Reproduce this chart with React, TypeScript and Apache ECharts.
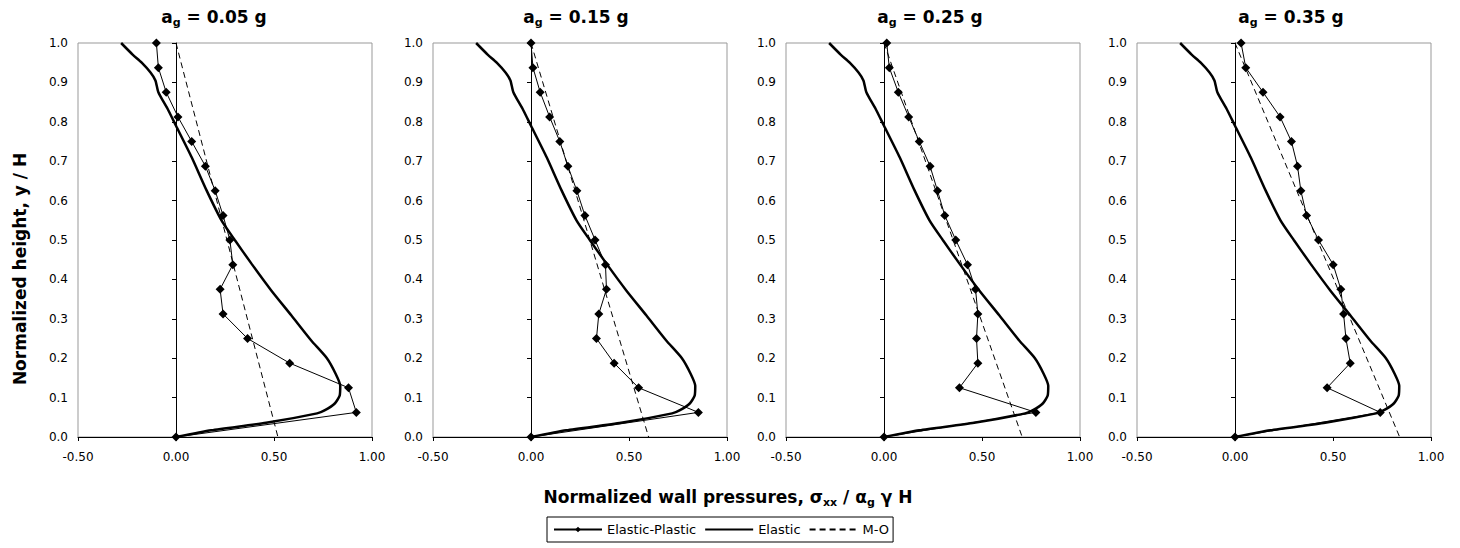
import React, { useEffect, useRef } from 'react';
import * as echarts from 'echarts';

// ---- Data ----
const agLabels = ['0.05', '0.15', '0.25', '0.35'];

// Normalized heights of the Elastic-Plastic points (y / H)
const epHeights = [1.0, 0.9375, 0.875, 0.8125, 0.75, 0.6875, 0.625, 0.5625, 0.5, 0.4375, 0.375, 0.3125, 0.25, 0.1875, 0.125, 0.0625, 0.0];

// Elastic-Plastic normalized pressures per panel
const epAg005 = [-0.10, -0.09, -0.05, 0.01, 0.08, 0.15, 0.20, 0.24, 0.275, 0.29, 0.225, 0.24, 0.365, 0.58, 0.88, 0.92, 0.0];
const epAg015 = [0.0, 0.01, 0.047, 0.095, 0.147, 0.188, 0.234, 0.275, 0.327, 0.38, 0.385, 0.346, 0.334, 0.424, 0.549, 0.854, 0.0];
const epAg025 = [0.014, 0.027, 0.073, 0.126, 0.18, 0.235, 0.273, 0.31, 0.366, 0.426, 0.467, 0.479, 0.472, 0.479, 0.385, 0.775, 0.0];
const epAg035 = [0.031, 0.055, 0.143, 0.23, 0.288, 0.319, 0.336, 0.365, 0.426, 0.501, 0.54, 0.554, 0.566, 0.588, 0.47, 0.741, 0.0];

// Elastic solution (same in every panel)
const elasticX = [-0.28, -0.22, -0.175, -0.13, -0.105, -0.09, -0.04, 0.0, 0.08, 0.156, 0.232, 0.30, 0.385, 0.486, 0.588, 0.69, 0.77, 0.815, 0.838, 0.835, 0.81, 0.76, 0.72, 0.46, 0.18, 0.0];
const elasticY = [1.0, 0.97, 0.95, 0.925, 0.905, 0.875, 0.83, 0.79, 0.71, 0.626, 0.55, 0.50, 0.44, 0.372, 0.309, 0.245, 0.20, 0.16, 0.13, 0.105, 0.085, 0.068, 0.06, 0.036, 0.017, 0.0];

// Mononobe-Okabe linear distribution
const moHeights = [1.0, 0.0];
const moAg005 = [0.0, 0.52];
const moAg015 = [0.0, 0.60];
const moAg025 = [0.0, 0.705];
const moAg035 = [0.0, 0.84];

const xTicks = { min: -0.5, max: 1.0, interval: 0.5 };
const yTicks = { min: 0, max: 1.0, interval: 0.1 };

const epSets = [epAg005, epAg015, epAg025, epAg035];
const moSets = [moAg005, moAg015, moAg025, moAg035];

// ---- Layout ----
const gridLefts = [78, 433, 786, 1137];
const gridTop = 43;
const gridW = 294;
const gridH = 394;
const titleCenters = [214, 576, 930, 1291];

const FONT = '"DejaVu Sans", sans-serif';

export default function App() {
  const ref = useRef<HTMLDivElement>(null);

  useEffect(() => {
    if (!ref.current) return;
    const chart = echarts.init(ref.current, undefined, { renderer: 'svg' });

    const grids = gridLefts.map((l) => ({
      left: l,
      top: gridTop,
      width: gridW,
      height: gridH,
      show: true,
      borderColor: '#999',
      borderWidth: 1,
      backgroundColor: 'transparent',
    }));

    const xAxes = gridLefts.map((_, i) => ({
      type: 'value',
      gridIndex: i,
      min: xTicks.min,
      max: xTicks.max,
      interval: xTicks.interval,
      axisLine: { show: true, onZero: false, lineStyle: { color: '#000', width: 1 } },
      axisTick: { show: true, length: 4, lineStyle: { color: '#000' } },
      axisLabel: {
        formatter: (v: number) => v.toFixed(2),
        fontFamily: FONT,
        fontSize: 12,
        color: '#000',
        margin: 14,
      },
      splitLine: { show: false },
    }));

    const yAxes: any[] = [];
    gridLefts.forEach((_, i) => {
      yAxes.push({
        type: 'value',
        gridIndex: i,
        min: yTicks.min,
        max: yTicks.max,
        interval: yTicks.interval,
        axisLine: { show: false, onZero: false },
        axisTick: { show: false },
        axisLabel: {
          formatter: (v: number) => v.toFixed(1),
          fontFamily: FONT,
          fontSize: 12,
          color: '#000',
          margin: 10,
        },
        splitLine: { show: false },
      });
      yAxes.push({
        type: 'value',
        gridIndex: i,
        position: 'left',
        min: yTicks.min,
        max: yTicks.max,
        interval: yTicks.interval,
        axisLine: { show: true, onZero: true, lineStyle: { color: '#000', width: 1 } },
        axisTick: { show: true, length: 4, lineStyle: { color: '#000' } },
        axisLabel: { show: false },
        splitLine: { show: false },
      });
    });

    const series: any[] = [];
    gridLefts.forEach((_, i) => {
      series.push({
        type: 'line',
        name: 'Elastic',
        xAxisIndex: i,
        yAxisIndex: 2 * i,
        data: elasticX.map((x, k) => [x, elasticY[k]]),
        symbol: 'none',
        showSymbol: false,
        smooth: 0.2,
        clip: false,
        lineStyle: { color: '#000', width: 2.5 },
        itemStyle: { color: '#000' },
        z: 2,
      });
      series.push({
        type: 'line',
        name: 'M-O',
        xAxisIndex: i,
        yAxisIndex: 2 * i,
        data: moSets[i].map((x, k) => [x, moHeights[k]]),
        symbol: 'none',
        showSymbol: false,
        clip: false,
        lineStyle: { color: '#000', width: 1, type: [6, 4] },
        itemStyle: { color: '#000' },
        z: 3,
      });
      series.push({
        type: 'line',
        name: 'Elastic-Plastic',
        xAxisIndex: i,
        yAxisIndex: 2 * i,
        data: epSets[i].map((x, k) => [x, epHeights[k]]),
        symbol: 'diamond',
        symbolSize: 9,
        showSymbol: true,
        clip: false,
        lineStyle: { color: '#000', width: 1 },
        itemStyle: { color: '#000' },
        z: 4,
      });
    });

    const titleRich = {
      b: { fontFamily: FONT, fontWeight: 'bold', fontSize: 17, fill: '#000', lineHeight: 22 },
      s: { fontFamily: FONT, fontWeight: 'bold', fontSize: 11, fill: '#000', lineHeight: 12, verticalAlign: 'bottom' },
    };

    const graphics: any[] = titleCenters.map((cx, i) => ({
      type: 'text',
      x: cx,
      y: 6,
      style: {
        text: `{b|a}{s|g}{b| = ${agLabels[i]} g}`,
        rich: titleRich,
        align: 'center',
        verticalAlign: 'top',
      },
    }));

    graphics.push({
      type: 'text',
      x: 20,
      y: 269,
      rotation: Math.PI / 2,
      style: {
        text: 'Normalized height, y / H',
        fontFamily: FONT,
        fontWeight: 'bold',
        fontSize: 17,
        fill: '#000',
        align: 'center',
        verticalAlign: 'middle',
      },
    });

    graphics.push({
      type: 'text',
      x: 728,
      y: 486,
      style: {
        text: '{b|Normalized wall pressures, σ}{s|xx}{b| / α}{s|g}{b| γ H}',
        rich: titleRich,
        align: 'center',
        verticalAlign: 'top',
      },
    });

    chart.setOption({
      animation: false,
      backgroundColor: '#fff',
      grid: grids,
      xAxis: xAxes,
      yAxis: yAxes,
      series,
      graphic: graphics,
      legend: {
        left: 547,
        top: 517,
        orient: 'horizontal',
        itemWidth: 48,
        itemHeight: 7,
        itemGap: 8,
        padding: [6, 4, 6, 6],
        borderColor: '#000',
        borderWidth: 1,
        borderRadius: 0,
        selectedMode: false,
        textStyle: { fontFamily: FONT, fontSize: 13, color: '#000' },
        data: [
          { name: 'Elastic-Plastic' },
          { name: 'Elastic', itemStyle: { opacity: 0 } },
          { name: 'M-O', itemStyle: { opacity: 0 } },
        ],
      },
    });

    return () => chart.dispose();
  }, []);

  return (
    <div
      ref={ref}
      style={{ position: 'absolute', left: 0, top: 0, width: 1460, height: 548, background: '#fff' }}
    />
  );
}
